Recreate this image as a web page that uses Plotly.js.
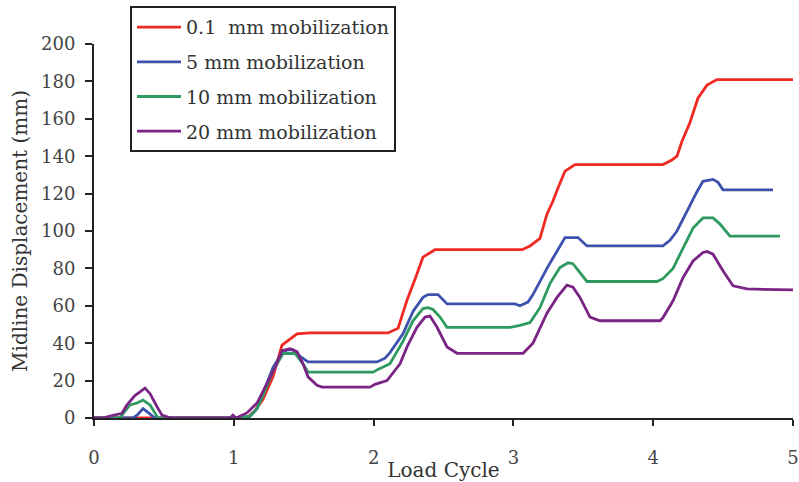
<!DOCTYPE html>
<html>
<head>
<meta charset="utf-8">
<script src="https://cdn.plot.ly/plotly-3.0.1.min.js"></script>
<style>html,body{margin:0;padding:0;background:#fff;}#chart{width:799px;height:482px;}</style>
</head>
<body>
<div id="chart"></div>
<script>
// Load cycle (x) and midline displacement in mm (y) for each mobilization level
const seriesNames = ["0.1  mm mobilization", "5 mm mobilization", "10 mm mobilization", "20 mm mobilization"];

const xRed = [0, 1.044, 1.102, 1.152, 1.209, 1.280, 1.345, 1.381, 1.452, 1.545, 2.103, 2.175, 2.239, 2.310, 2.353, 2.439, 3.062, 3.119, 3.190, 3.240, 3.283, 3.319, 3.369, 3.441, 4.070, 4.134, 4.170, 4.206, 4.263, 4.320, 4.385, 4.456, 5.0];
const yRed = [0, 0, 0.5, 4, 10, 22, 39, 41, 45, 45.5, 45.5, 48, 63, 77, 86, 90, 90, 92, 96, 109, 116, 123, 132, 135.5, 135.5, 138, 140, 148, 158, 171, 178, 181, 181];

const xBlue = [0, 0.279, 0.308, 0.351, 0.386, 0.436, 1.044, 1.116, 1.166, 1.209, 1.280, 1.330, 1.381, 1.423, 1.474, 1.531, 2.024, 2.082, 2.117, 2.210, 2.282, 2.353, 2.389, 2.461, 2.525, 3.011, 3.047, 3.104, 3.140, 3.240, 3.312, 3.369, 3.462, 3.526, 4.070, 4.120, 4.170, 4.242, 4.313, 4.356, 4.428, 4.464, 4.499, 4.857];
const yBlue = [0, 0, 1.5, 5, 3, 0, 0, 1, 5, 13, 27, 33, 36.5, 36.5, 33, 30, 30, 32, 35, 45, 57, 64.5, 66, 66, 61, 61, 60, 62, 66, 80, 89, 96.5, 96.5, 92, 92, 95, 100, 111, 121, 126.6, 127.6, 126, 122, 122];

const xGreen = [0, 0.186, 0.215, 0.258, 0.308, 0.351, 0.401, 0.458, 1.044, 1.116, 1.166, 1.209, 1.280, 1.352, 1.438, 1.495, 1.531, 1.996, 2.031, 2.117, 2.210, 2.282, 2.353, 2.389, 2.425, 2.475, 2.525, 2.976, 3.047, 3.119, 3.190, 3.262, 3.333, 3.391, 3.426, 3.476, 3.526, 4.027, 4.070, 4.142, 4.213, 4.285, 4.356, 4.428, 4.478, 4.549, 4.907];
const yGreen = [0, 0, 3, 7, 8, 9.6, 7, 0, 0, 1, 5, 12, 25, 34.5, 34.5, 29, 24.5, 24.5, 26, 29, 41, 52, 58.5, 59, 58, 54, 48.5, 48.5, 49.5, 51, 59, 72, 80.5, 83, 82.5, 77.7, 73, 73, 74.5, 80, 91, 101.6, 107, 107, 103.7, 97.3, 97.3];

const xPurple = [0, 0.064, 0.114, 0.165, 0.200, 0.236, 0.293, 0.365, 0.401, 0.451, 0.486, 0.529, 0.558, 0.973, 0.994, 1.016, 1.094, 1.166, 1.237, 1.295, 1.345, 1.402, 1.452, 1.495, 1.531, 1.595, 1.631, 1.974, 2.010, 2.096, 2.189, 2.239, 2.310, 2.368, 2.403, 2.454, 2.525, 2.597, 3.069, 3.140, 3.240, 3.312, 3.383, 3.426, 3.476, 3.548, 3.619, 4.049, 4.070, 4.142, 4.213, 4.285, 4.356, 4.385, 4.428, 4.499, 4.571, 4.671, 5.0];
const yPurple = [0, 0, 1, 2, 2.5, 7, 12, 16, 13, 6, 1.5, 0.5, 0, 0, 1.5, 0, 2.7, 8, 18.6, 27, 36, 37, 35.5, 29, 22, 17.5, 16.5, 16.5, 18, 20, 29, 38, 48.5, 54, 54.5, 48.5, 38, 34.6, 34.6, 40, 56, 64.5, 71, 70, 64.5, 54, 52, 52, 53.7, 62.7, 75, 84, 88.5, 89, 87.6, 78.7, 70.7, 69, 68.5];

const xTicks = [0, 1, 2, 3, 4, 5];
const yTicks = [0, 20, 40, 60, 80, 100, 120, 140, 160, 180, 200];

const colors = ["#ef2a22", "#3d51ad", "#2f9a5f", "#7a2585"];
const xs = [xRed, xBlue, xGreen, xPurple];
const ys = [yRed, yBlue, yGreen, yPurple];

const font = "DejaVu Serif, Liberation Serif, serif";
const traces = seriesNames.map((n, i) => ({
  x: xs[i], y: ys[i], name: n, type: "scatter", mode: "lines",
  legendgroup: "g" + i,
  line: {color: colors[i], width: 2.8, shape: "linear"},
  hoverinfo: "skip"
}));

const layout = {
  width: 799, height: 482,
  margin: {l: 94, r: 6, t: 42, b: 64},
  paper_bgcolor: "#fff", plot_bgcolor: "#fff",
  font: {family: font, color: "#333", size: 17},
  showlegend: true,
  legend: {
    x: 0.0515, y: 1.101, xanchor: "left", yanchor: "top",
    bgcolor: "#fff", bordercolor: "#222", borderwidth: 2,
    font: {family: font, size: 19, color: "#333"},
    itemwidth: 44,
    tracegroupgap: 7, traceorder: "grouped"
  },
  xaxis: {
    range: [0, 5], tickvals: xTicks, ticktext: xTicks.map(String),
    showgrid: false, zeroline: false, showline: true, linecolor: "#222", linewidth: 2,
    ticks: "outside", ticklen: 6, tickwidth: 2, tickcolor: "#222",
    ticklabelstandoff: 16,
    tickfont: {family: font, size: 18, color: "#444"},
    title: {text: "Load Cycle", font: {family: font, size: 20, color: "#333"}, standoff: 0}
  },
  yaxis: {
    range: [0, 200], tickvals: yTicks, ticktext: yTicks.map(String),
    showgrid: false, zeroline: false, showline: true, linecolor: "#222", linewidth: 2,
    ticks: "outside", ticklen: 7, tickwidth: 2, tickcolor: "#222",
    ticklabelstandoff: 6,
    tickfont: {family: font, size: 18, color: "#444"},
    title: {text: "Midline Displacement (mm)", font: {family: font, size: 20, color: "#333"}, standoff: 8}
  }
};

Plotly.newPlot("chart", traces, layout, {staticPlot: true, displayModeBar: false});
</script>
</body>
</html>
